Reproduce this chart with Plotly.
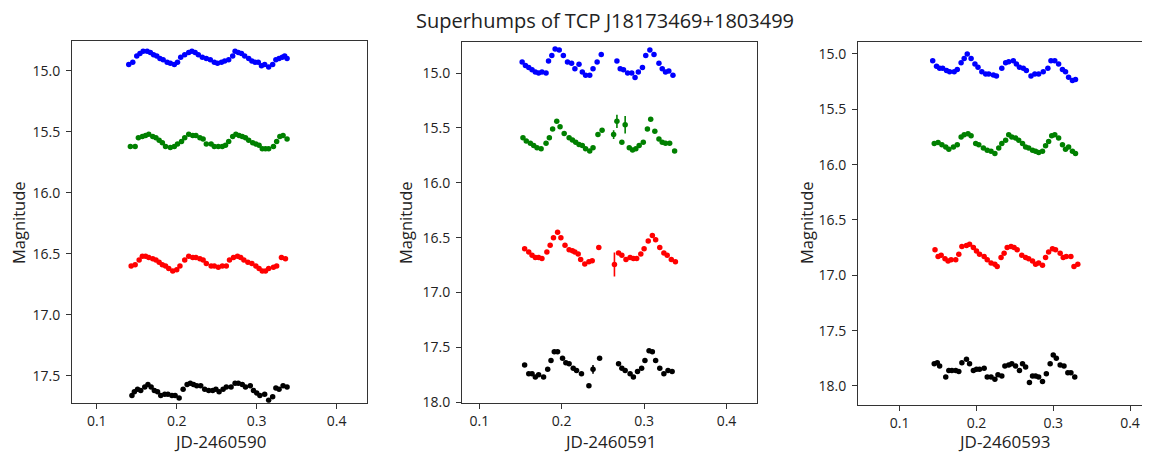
import plotly.graph_objects as go

# ------------------------------------------------------------------
# DATA  (JD offsets, magnitudes)
# ------------------------------------------------------------------

# JD-2460590
t590_blue = [0.140, 0.145, 0.150, 0.154, 0.158, 0.163, 0.167, 0.171, 0.175, 0.179, 0.183, 0.188,
             0.192, 0.197, 0.201, 0.205, 0.210, 0.215, 0.219, 0.223, 0.227, 0.232, 0.237, 0.242,
             0.247, 0.251, 0.256, 0.260, 0.265, 0.270, 0.273, 0.277, 0.281, 0.285, 0.290, 0.294,
             0.298, 0.302, 0.306, 0.310, 0.315, 0.320, 0.324, 0.328, 0.332, 0.335, 0.338]
m590_blue = [14.95, 14.93, 14.88, 14.86, 14.84, 14.84, 14.85, 14.87, 14.88, 14.90, 14.91, 14.93,
             14.94, 14.95, 14.93, 14.89, 14.87, 14.85, 14.84, 14.85, 14.87, 14.89, 14.90, 14.91,
             14.93, 14.94, 14.93, 14.92, 14.91, 14.88, 14.84, 14.85, 14.86, 14.88, 14.90, 14.92,
             14.93, 14.93, 14.96, 14.95, 14.97, 14.95, 14.91, 14.90, 14.89, 14.88, 14.90]

t590_green = [0.142, 0.148, 0.152, 0.157, 0.161, 0.165, 0.170, 0.174, 0.178, 0.182, 0.186, 0.192,
              0.197, 0.201, 0.206, 0.210, 0.215, 0.220, 0.224, 0.229, 0.233, 0.237, 0.243, 0.247,
              0.252, 0.257, 0.261, 0.265, 0.270, 0.274, 0.278, 0.282, 0.286, 0.290, 0.295, 0.299,
              0.303, 0.307, 0.311, 0.315, 0.321, 0.325, 0.329, 0.333, 0.338]
m590_green = [15.62, 15.62, 15.55, 15.54, 15.53, 15.52, 15.54, 15.55, 15.57, 15.59, 15.62, 15.63,
              15.62, 15.60, 15.58, 15.55, 15.52, 15.53, 15.53, 15.55, 15.56, 15.60, 15.60, 15.62,
              15.62, 15.62, 15.61, 15.58, 15.54, 15.52, 15.53, 15.54, 15.55, 15.57, 15.59, 15.60,
              15.61, 15.64, 15.64, 15.64, 15.62, 15.58, 15.54, 15.53, 15.56]

t590_red = [0.143, 0.148, 0.153, 0.157, 0.161, 0.165, 0.170, 0.174, 0.178, 0.182, 0.186, 0.190,
            0.195, 0.200, 0.204, 0.210, 0.215, 0.220, 0.224, 0.229, 0.233, 0.237, 0.243, 0.247,
            0.252, 0.257, 0.262, 0.266, 0.271, 0.276, 0.280, 0.284, 0.289, 0.294, 0.299, 0.303,
            0.307, 0.311, 0.315, 0.321, 0.325, 0.331, 0.336]
m590_red = [16.60, 16.59, 16.55, 16.52, 16.52, 16.53, 16.54, 16.55, 16.57, 16.59, 16.60, 16.62,
            16.64, 16.63, 16.60, 16.55, 16.52, 16.53, 16.53, 16.54, 16.55, 16.58, 16.60, 16.60,
            16.61, 16.60, 16.60, 16.55, 16.53, 16.52, 16.53, 16.55, 16.57, 16.58, 16.60, 16.62,
            16.64, 16.64, 16.62, 16.61, 16.60, 16.53, 16.54]

t590_black = [0.144, 0.147, 0.151, 0.155, 0.160, 0.164, 0.168, 0.172, 0.176, 0.180, 0.185, 0.189,
              0.194, 0.198, 0.203, 0.208, 0.213, 0.217, 0.221, 0.225, 0.230, 0.235, 0.240, 0.245,
              0.249, 0.253, 0.258, 0.262, 0.268, 0.273, 0.277, 0.282, 0.286, 0.292, 0.296, 0.300,
              0.304, 0.310, 0.315, 0.320, 0.324, 0.328, 0.333, 0.338]
m590_black = [17.66, 17.63, 17.61, 17.62, 17.59, 17.57, 17.59, 17.62, 17.63, 17.66, 17.65, 17.65,
              17.66, 17.66, 17.68, 17.61, 17.57, 17.56, 17.57, 17.58, 17.58, 17.61, 17.62, 17.62,
              17.61, 17.63, 17.61, 17.59, 17.59, 17.56, 17.56, 17.57, 17.59, 17.58, 17.62, 17.64,
              17.66, 17.65, 17.70, 17.67, 17.60, 17.61, 17.58, 17.59]

# JD-2460591
t591_blue = [0.152, 0.156, 0.160, 0.164, 0.168, 0.172, 0.176, 0.181, 0.184, 0.188, 0.192, 0.197,
             0.202, 0.207, 0.212, 0.216, 0.221, 0.225, 0.229, 0.234, 0.238, 0.243, 0.248, 0.267,
             0.271, 0.275, 0.280, 0.285, 0.289, 0.293, 0.298, 0.302, 0.307, 0.312, 0.318, 0.322,
             0.326, 0.330, 0.335]
m591_blue = [14.90, 14.93, 14.95, 14.97, 14.99, 15.00, 14.99, 15.00, 14.89, 14.84, 14.78, 14.79,
             14.84, 14.90, 14.91, 14.96, 14.92, 14.99, 15.02, 15.02, 14.96, 14.90, 14.83, 14.89,
             14.96, 14.97, 15.00, 15.00, 15.04, 14.99, 14.95, 14.84, 14.79, 14.83, 14.91, 14.96,
             14.99, 14.98, 15.02]

t591_green = [0.153, 0.157, 0.162, 0.166, 0.170, 0.175, 0.181, 0.185, 0.189, 0.194, 0.198, 0.203,
              0.209, 0.213, 0.217, 0.221, 0.225, 0.229, 0.234, 0.238, 0.244, 0.249, 0.263, 0.267,
              0.273, 0.277, 0.282, 0.286, 0.290, 0.294, 0.299, 0.304, 0.308, 0.313, 0.318, 0.322,
              0.326, 0.331, 0.337]
m591_green = [15.59, 15.62, 15.64, 15.66, 15.68, 15.69, 15.64, 15.59, 15.51, 15.44, 15.49, 15.55,
              15.59, 15.61, 15.63, 15.65, 15.66, 15.69, 15.71, 15.68, 15.56, 15.52, 15.56, 15.44,
              15.63, 15.47, 15.68, 15.70, 15.69, 15.66, 15.63, 15.51, 15.42, 15.53, 15.60, 15.63,
              15.64, 15.64, 15.71]
e591_green = [0.01, 0.01, 0.01, 0.01, 0.01, 0.01, 0.01, 0.01, 0.01, 0.01, 0.01, 0.01,
              0.01, 0.01, 0.01, 0.01, 0.01, 0.01, 0.01, 0.01, 0.01, 0.01, 0.04, 0.06,
              0.01, 0.08, 0.01, 0.01, 0.01, 0.01, 0.01, 0.01, 0.01, 0.01, 0.01, 0.01,
              0.01, 0.01, 0.01]

t591_red = [0.155, 0.160, 0.164, 0.168, 0.172, 0.176, 0.182, 0.186, 0.190, 0.195, 0.199, 0.204,
            0.209, 0.213, 0.216, 0.220, 0.223, 0.228, 0.233, 0.237, 0.245, 0.264, 0.269, 0.273,
            0.278, 0.283, 0.287, 0.291, 0.296, 0.300, 0.305, 0.310, 0.314, 0.319, 0.324, 0.328,
            0.333, 0.338]
m591_red = [16.60, 16.63, 16.66, 16.68, 16.68, 16.69, 16.63, 16.57, 16.50, 16.45, 16.50, 16.57,
            16.61, 16.62, 16.63, 16.65, 16.70, 16.74, 16.72, 16.71, 16.59, 16.745, 16.64, 16.66,
            16.70, 16.68, 16.69, 16.69, 16.65, 16.60, 16.53, 16.48, 16.52, 16.59, 16.64, 16.66,
            16.70, 16.72]
e591_red = [0.01, 0.01, 0.01, 0.01, 0.01, 0.01, 0.01, 0.01, 0.01, 0.01, 0.01, 0.01,
            0.01, 0.01, 0.01, 0.01, 0.01, 0.01, 0.01, 0.01, 0.01, 0.11, 0.01, 0.01,
            0.01, 0.01, 0.01, 0.01, 0.01, 0.01, 0.01, 0.01, 0.01, 0.01, 0.01, 0.01,
            0.01, 0.01]

t591_black = [0.155, 0.160, 0.164, 0.168, 0.172, 0.178, 0.183, 0.187, 0.191, 0.195, 0.201, 0.205,
              0.209, 0.214, 0.218, 0.224, 0.233, 0.238, 0.246, 0.269, 0.273, 0.277, 0.283, 0.287,
              0.292, 0.297, 0.301, 0.306, 0.310, 0.314, 0.319, 0.324, 0.329, 0.334]
m591_black = [17.66, 17.74, 17.74, 17.77, 17.75, 17.77, 17.70, 17.62, 17.54, 17.54, 17.60, 17.64,
              17.65, 17.69, 17.71, 17.74, 17.85, 17.70, 17.60, 17.65, 17.69, 17.71, 17.74, 17.77,
              17.72, 17.69, 17.62, 17.53, 17.54, 17.62, 17.69, 17.74, 17.71, 17.72]
e591_black = [0.01, 0.01, 0.01, 0.01, 0.01, 0.01, 0.01, 0.01, 0.01, 0.01, 0.01, 0.01,
              0.01, 0.01, 0.01, 0.01, 0.01, 0.04, 0.01, 0.01, 0.01, 0.01, 0.01, 0.01,
              0.01, 0.01, 0.01, 0.01, 0.01, 0.01, 0.01, 0.01, 0.01, 0.01]

# JD-2460593
t593_blue = [0.143, 0.148, 0.152, 0.156, 0.161, 0.165, 0.171, 0.175, 0.180, 0.184, 0.188, 0.193,
             0.198, 0.202, 0.207, 0.212, 0.216, 0.222, 0.226, 0.233, 0.238, 0.242, 0.248, 0.252,
             0.256, 0.261, 0.265, 0.271, 0.276, 0.281, 0.287, 0.293, 0.297, 0.302, 0.307, 0.312,
             0.316, 0.320, 0.325, 0.329]
m593_blue = [15.06, 15.11, 15.13, 15.13, 15.15, 15.16, 15.16, 15.14, 15.08, 15.04, 15.00, 15.04,
             15.09, 15.12, 15.16, 15.18, 15.18, 15.19, 15.20, 15.13, 15.08, 15.07, 15.06, 15.09,
             15.12, 15.13, 15.15, 15.20, 15.18, 15.18, 15.16, 15.13, 15.06, 15.06, 15.09, 15.14,
             15.16, 15.21, 15.24, 15.23]

t593_green = [0.145, 0.150, 0.155, 0.160, 0.164, 0.170, 0.175, 0.180, 0.184, 0.189, 0.193, 0.199,
              0.203, 0.209, 0.214, 0.219, 0.224, 0.229, 0.233, 0.238, 0.242, 0.246, 0.251, 0.255,
              0.260, 0.264, 0.268, 0.273, 0.277, 0.281, 0.286, 0.290, 0.294, 0.298, 0.302, 0.307,
              0.312, 0.316, 0.320, 0.325, 0.329]
m593_green = [15.81, 15.80, 15.82, 15.84, 15.86, 15.84, 15.82, 15.75, 15.73, 15.72, 15.74, 15.81,
              15.82, 15.85, 15.87, 15.88, 15.90, 15.85, 15.81, 15.78, 15.73, 15.75, 15.76, 15.78,
              15.81, 15.84, 15.85, 15.87, 15.88, 15.89, 15.88, 15.83, 15.79, 15.74, 15.73, 15.76,
              15.82, 15.86, 15.84, 15.88, 15.90]

t593_red = [0.146, 0.150, 0.154, 0.159, 0.163, 0.167, 0.173, 0.177, 0.181, 0.187, 0.191, 0.196,
            0.200, 0.204, 0.210, 0.214, 0.219, 0.224, 0.227, 0.232, 0.236, 0.240, 0.245, 0.249,
            0.253, 0.259, 0.264, 0.268, 0.273, 0.277, 0.281, 0.286, 0.290, 0.294, 0.299, 0.303,
            0.309, 0.313, 0.317, 0.323, 0.327, 0.332]
m593_red = [16.77, 16.83, 16.82, 16.85, 16.87, 16.86, 16.86, 16.81, 16.74, 16.73, 16.72, 16.75,
            16.78, 16.81, 16.83, 16.86, 16.89, 16.90, 16.92, 16.84, 16.80, 16.75, 16.74, 16.75,
            16.77, 16.82, 16.84, 16.85, 16.87, 16.90, 16.89, 16.91, 16.84, 16.79, 16.76, 16.77,
            16.80, 16.84, 16.83, 16.83, 16.92, 16.90]

t593_black = [0.145, 0.149, 0.152, 0.160, 0.164, 0.168, 0.173, 0.177, 0.181, 0.187, 0.191, 0.196,
              0.200, 0.204, 0.210, 0.214, 0.219, 0.224, 0.228, 0.233, 0.237, 0.242, 0.246, 0.251,
              0.256, 0.260, 0.264, 0.269, 0.273, 0.277, 0.281, 0.286, 0.291, 0.296, 0.300, 0.304,
              0.309, 0.314, 0.319, 0.323, 0.328]
m593_black = [17.80, 17.79, 17.82, 17.92, 17.86, 17.86, 17.86, 17.87, 17.79, 17.76, 17.80, 17.86,
              17.85, 17.85, 17.84, 17.92, 17.92, 17.94, 17.90, 17.91, 17.82, 17.81, 17.80, 17.82,
              17.86, 17.80, 17.83, 17.97, 17.91, 17.91, 17.92, 17.96, 17.89, 17.80, 17.72, 17.75,
              17.81, 17.82, 17.88, 17.88, 17.92]

x_ticks = [0.1, 0.2, 0.3, 0.4]
day_labels = ["JD-2460590", "JD-2460591", "JD-2460593"]

# ------------------------------------------------------------------
# PLOT
# ------------------------------------------------------------------

# the page body keeps its default 8px margin: shrink the figure by that on
# every side so the page is exactly the window, and place things in screen px
PAGE_W, PAGE_H, BODY = 1150, 461, 8
W, H = PAGE_W - 2 * BODY, PAGE_H - 2 * BODY
FONT = "Open Sans"


def fx(px):
    return min(max((px - BODY) / W, 0.0), 1.0)


def fy(py):
    return min(max((H - (py - BODY)) / H, 0.0), 1.0)


panels = [
    dict(series=[(t590_blue, m590_blue, None, "blue"), (t590_green, m590_green, None, "green"),
                 (t590_red, m590_red, None, "red"), (t590_black, m590_black, None, "black")],
         xpx=(72, 367), ypx=(42, 410), xr=[0.069, 0.438], yr=[17.72, 14.76],
         yt=[15.0, 15.5, 16.0, 16.5, 17.0, 17.5], lab_x=18, right_line=True),
    dict(series=[(t591_blue, m591_blue, None, "blue"), (t591_green, m591_green, e591_green, "green"),
                 (t591_red, m591_red, e591_red, "red"), (t591_black, m591_black, e591_black, "black")],
         xpx=(462, 757), ypx=(43, 410), xr=[0.079, 0.437], yr=[18.005, 14.72],
         yt=[15.0, 15.5, 16.0, 16.5, 17.0, 17.5, 18.0], lab_x=405, right_line=True),
    # third panel runs past the right edge of the picture
    dict(series=[(t593_blue, m593_blue, None, "blue"), (t593_green, m593_green, None, "green"),
                 (t593_red, m593_red, None, "red"), (t593_black, m593_black, None, "black")],
         xpx=(858, 1142), ypx=(43, 412), xr=[0.0457, 0.4156], yr=[18.17, 14.895],
         yt=[15.0, 15.5, 16.0, 16.5, 17.0, 17.5, 18.0], lab_x=806, right_line=False),
]

fig = go.Figure()
annotations = []

for i, p in enumerate(panels, start=1):
    sfx = "" if i == 1 else str(i)
    for t, m, e, col in p["series"]:
        err = None
        if e is not None:
            err = dict(type="data", array=e, visible=True, color=col, thickness=1.6, width=0)
        fig.add_trace(go.Scatter(
            x=t, y=m, mode="markers", error_y=err,
            marker=dict(color=col, size=5.5, line=dict(width=0)),
            xaxis="x" + sfx, yaxis="y" + sfx, showlegend=False,
        ))

    x0, x1 = p["xpx"]
    yt, yb = p["ypx"]
    axis_common = dict(
        showline=True, linecolor="#333", linewidth=1,
        ticks="outside", ticklen=5, tickwidth=1, tickcolor="#333",
        showgrid=False, zeroline=False,
        tickfont=dict(family=FONT, size=14, color="#222"),
    )
    fig.update_layout(**{
        "xaxis" + sfx: dict(axis_common, domain=[fx(x0), fx(x1)], range=p["xr"], mirror=True,
                            ticklabelstandoff=0,
                            tickvals=x_ticks, tickformat=".1f", anchor="y" + sfx),
        "yaxis" + sfx: dict(axis_common, domain=[fy(yb), fy(yt)], range=p["yr"],
                            mirror=p["right_line"], ticklabelstandoff=3,
                            tickvals=p["yt"], tickformat=".1f", anchor="x" + sfx),
    })

    annotations.append(dict(
        text=day_labels[i - 1], xref="paper", yref="paper",
        x=fx((x0 + (x1 if p["right_line"] else 1150)) / 2), y=fy(449),
        xanchor="center", yanchor="middle", borderpad=0,
        showarrow=False, font=dict(family=FONT, size=17, color="#222"),
    ))
    annotations.append(dict(
        text="Magnitude", xref="paper", yref="paper", textangle=-90,
        x=fx(p["lab_x"]), y=fy(227), xanchor="center", yanchor="middle",
        showarrow=False, font=dict(family=FONT, size=16.5, color="#222"),
    ))

annotations.append(dict(
    text="Superhumps of TCP J18173469+1803499", xref="paper", yref="paper",
    x=fx(605), y=1.0, xanchor="center", yanchor="top", yshift=3,
    showarrow=False, font=dict(family=FONT, size=20, color="#222"),
))

fig.update_layout(
    width=W, height=H,
    margin=dict(l=0, r=0, t=0, b=0),
    paper_bgcolor="white", plot_bgcolor="white",
    annotations=annotations,
)

fig.write_html("out.html")
